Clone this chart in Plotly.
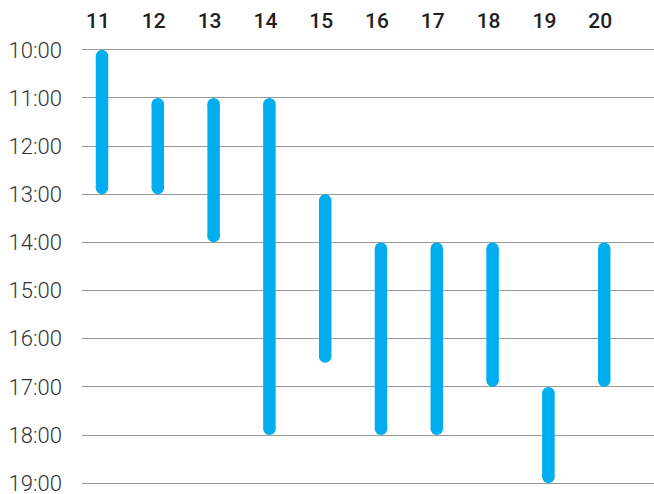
import plotly.graph_objects as go

days = [11, 12, 13, 14, 15, 16, 17, 18, 19, 20]
start_hours = [10, 11, 11, 11, 13, 14, 14, 14, 17, 14]
end_hours = [13, 13, 14, 18, 16.5, 18, 18, 17, 19, 17]
hour_ticks = [10, 11, 12, 13, 14, 15, 16, 17, 18, 19]
hour_labels = [f"{h}:00" for h in hour_ticks]

BAR_COLOR = "#00AEEF"
BAR_PX = 12.5
PAD = 0.1
TOP, BOTTOM = 45, 6
PLOT_H = 494 - TOP - BOTTOM
PX_PER_HOUR = PLOT_H / (9 + 2 * PAD)
r = (BAR_PX / 2) / PX_PER_HOUR

fig = go.Figure()

line_x, line_y, cap_x, cap_y = [], [], [], []
for d, s, e in zip(days, start_hours, end_hours):
    line_x += [d, d, None]
    line_y += [s + r, e - r, None]
    cap_x += [d, d]
    cap_y += [s + r, e - r]

fig.add_trace(go.Scatter(x=line_x, y=line_y, mode="lines",
                         line=dict(color=BAR_COLOR, width=BAR_PX),
                         hoverinfo="skip", showlegend=False))
fig.add_trace(go.Scatter(x=cap_x, y=cap_y, mode="markers",
                         marker=dict(color=BAR_COLOR, size=BAR_PX, line=dict(width=0)),
                         hoverinfo="skip", showlegend=False))

left_px = 20.0
step_px = 55.8
plot_w = 654 - 82
x0 = days[0] - left_px / step_px
x1 = x0 + plot_w / step_px

fig.update_layout(
    width=654, height=494,
    margin=dict(l=82, r=0, t=TOP, b=BOTTOM),
    paper_bgcolor="white", plot_bgcolor="white",
    xaxis=dict(side="top", range=[x0, x1], tickmode="array",
               tickvals=days, ticktext=[str(d) for d in days],
               showgrid=False, zeroline=False, showline=False, ticks="",
               automargin=False, ticklabeloverflow="allow",
               tickfont=dict(family="Roboto", size=21, color="#1e1e1e", weight=500),
               ticklabelstandoff=12, ticklabelshift=-4),
    yaxis=dict(range=[19 + PAD, 10 - PAD], tickmode="array",
               tickvals=hour_ticks, ticktext=hour_labels,
               showgrid=True, gridcolor="#999999", gridwidth=1,
               zeroline=False, showline=False, ticks="",
               automargin=False, ticklabeloverflow="allow",
               tickfont=dict(family="Roboto", size=22, color="#333333", weight=300),
               ticklabelstandoff=19),
)

fig.write_html("out.html", config={"displayModeBar": False},
               post_script="document.body.style.margin='0';document.body.style.overflow='hidden';")
